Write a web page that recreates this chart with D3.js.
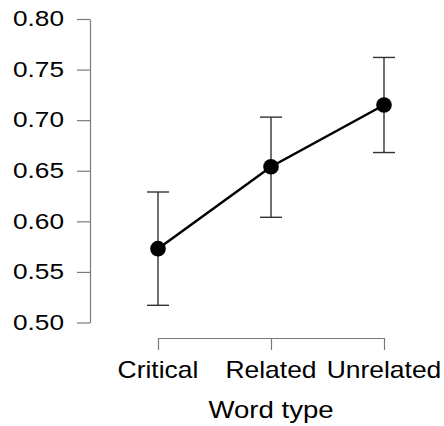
<!DOCTYPE html>
<html>
<head>
<meta charset="utf-8">
<script src="https://cdn.jsdelivr.net/npm/d3@7"></script>
<style>
  body { margin: 0; background: #fff; }
  svg { display: block; font-family: "Liberation Sans", Arial, sans-serif; }
</style>
</head>
<body>
<svg width="444" height="426"></svg>
<script>
// data
const wordTypes = ['Critical', 'Related', 'Unrelated'];
const means = [0.573, 0.654, 0.715];
const lower = [0.517, 0.604, 0.668];
const upper = [0.629, 0.703, 0.762];
const yTicks = [0.50, 0.55, 0.60, 0.65, 0.70, 0.75, 0.80];

const svg = d3.select('svg');
const axisCol = '#7a7a7a';

const x = d3.scalePoint().domain(wordTypes).range([158, 384]);
const y = d3.scaleLinear().domain([0.5, 0.8]).range([322.5, 19]);

// y axis
const yAxis = d3.axisLeft(y).tickValues(yTicks).tickSize(13).tickSizeOuter(0).tickFormat('');
const gy = svg.append('g').attr('transform', 'translate(90,0)').call(yAxis);
gy.selectAll('path, line').attr('stroke', axisCol).attr('stroke-width', 1.2);

// tick labels, stretched a bit wide like the original
svg.append('g').selectAll('g')
  .data(yTicks)
  .enter().append('g')
  .attr('transform', d => 'translate(64,' + y(d) + ') scale(1.22,1)')
  .append('text')
  .attr('text-anchor', 'end')
  .attr('dy', '0.34em')
  .attr('font-size', 21.5)
  .attr('fill', '#000')
  .text(d => d.toFixed(2));

// x axis
const xAxis = d3.axisBottom(x).tickSize(12).tickSizeOuter(0).tickFormat('');
const gx = svg.append('g').attr('transform', 'translate(0,338)').call(xAxis);
gx.selectAll('path, line').attr('stroke', axisCol).attr('stroke-width', 1.2);

svg.append('g').selectAll('g')
  .data(wordTypes)
  .enter().append('g')
  .attr('transform', d => 'translate(' + x(d) + ',378) scale(1.15,1)')
  .append('text')
  .attr('text-anchor', 'middle')
  .attr('font-size', 23)
  .attr('fill', '#000')
  .text(d => d);

svg.append('g')
  .attr('transform', 'translate(271,418) scale(1.2,1)')
  .append('text')
  .attr('text-anchor', 'middle')
  .attr('font-size', 23)
  .attr('fill', '#000')
  .text('Word type');

// error bars
const eb = svg.append('g').attr('stroke', '#333').attr('stroke-width', 1.4);
wordTypes.forEach((w, i) => {
  eb.append('line').attr('x1', x(w)).attr('x2', x(w)).attr('y1', y(lower[i])).attr('y2', y(upper[i]));
  eb.append('line').attr('x1', x(w) - 11).attr('x2', x(w) + 11).attr('y1', y(lower[i])).attr('y2', y(lower[i]));
  eb.append('line').attr('x1', x(w) - 11).attr('x2', x(w) + 11).attr('y1', y(upper[i])).attr('y2', y(upper[i]));
});

// mean line + points
const line = d3.line().x((d, i) => x(wordTypes[i])).y(d => y(d));
svg.append('path')
  .attr('d', line(means))
  .attr('fill', 'none')
  .attr('stroke', '#000')
  .attr('stroke-width', 2.5);

svg.append('g').selectAll('circle')
  .data(means)
  .enter().append('circle')
  .attr('cx', (d, i) => x(wordTypes[i]))
  .attr('cy', d => y(d))
  .attr('r', 7.8)
  .attr('fill', '#000');
</script>
</body>
</html>
